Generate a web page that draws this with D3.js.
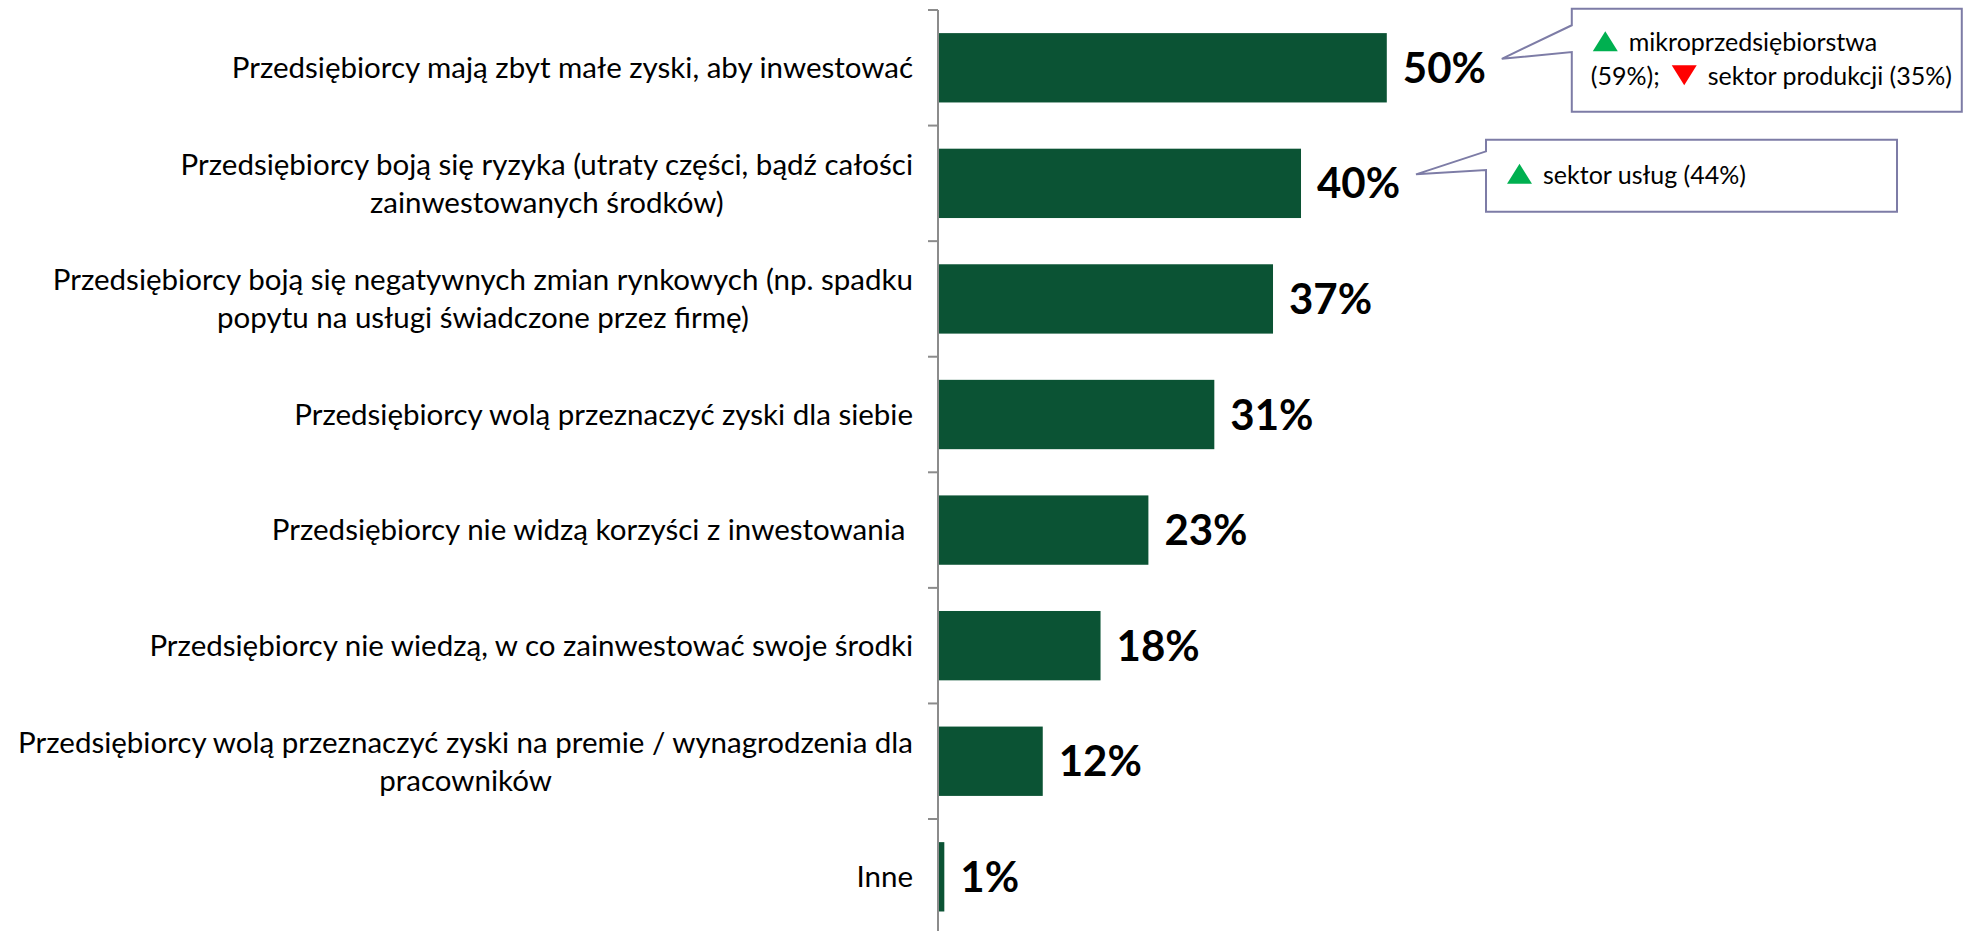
<!DOCTYPE html>
<html>
<head>
<meta charset="utf-8">
<script src="https://cdn.jsdelivr.net/npm/d3@7"></script>
<style>
  body { margin: 0; background: #fff; }
  text { font-family: Lato, "Open Sans", sans-serif; }
</style>
</head>
<body>
<div id="chart"></div>
<script>
// categories (line breaks as in the original wrapping)
const categories = [
  "Przedsiębiorcy mają zbyt małe zyski, aby inwestować",
  "Przedsiębiorcy boją się ryzyka (utraty części, bądź całości\nzainwestowanych środków)",
  "Przedsiębiorcy boją się negatywnych zmian rynkowych (np. spadku\npopytu na usługi świadczone przez firmę)",
  "Przedsiębiorcy wolą przeznaczyć zyski dla siebie",
  "Przedsiębiorcy nie widzą korzyści z inwestowania ",
  "Przedsiębiorcy nie wiedzą, w co zainwestować swoje środki",
  "Przedsiębiorcy wolą przeznaczyć zyski na premie / wynagrodzenia dla\npracowników",
  "Inne"
];
const values = [49.7, 40.2, 37.1, 30.6, 23.3, 18.0, 11.6, 0.7];

// callouts attached to bars (index into categories)
const noteIndex = [0, 1];
const noteLines = [
  [[{ tri: "up" }, { text: "mikroprzedsiębiorstwa" }],
   [{ text: "(59%);" }, { tri: "down" }, { text: "sektor produkcji (35%)" }]],
  [[{ tri: "up" }, { text: "sektor usług (44%)" }]]
];
const noteSize = [[390, 103], [411, 72]];

const width = 1963, height = 931;
const barColor = "#0b5334";
const axisColor = "#8c8c8c";

const svg = d3.select("#chart").append("svg")
  .attr("width", width)
  .attr("height", height);

const axisX = 938;
const x = d3.scaleLinear().domain([0, 100]).range([axisX, axisX + 903]);
const y = d3.scaleBand()
  .domain(d3.range(categories.length))
  .range([10, 934.6])
  .paddingInner(0.4)
  .paddingOuter(0.2);
const step = y.step();

// bars
svg.selectAll(".bar")
  .data(values)
  .enter().append("rect")
  .attr("class", "bar")
  .attr("x", x(0))
  .attr("y", (d, i) => y(i))
  .attr("width", d => x(d) - x(0))
  .attr("height", y.bandwidth())
  .attr("fill", barColor);

// axis line + ticks on band boundaries
svg.append("line")
  .attr("x1", axisX).attr("x2", axisX)
  .attr("y1", y.range()[0]).attr("y2", y.range()[1])
  .attr("stroke", axisColor).attr("stroke-width", 2);

svg.selectAll(".tick")
  .data(d3.range(categories.length + 1))
  .enter().append("line")
  .attr("class", "tick")
  .attr("x1", axisX - 10).attr("x2", axisX)
  .attr("y1", i => y.range()[0] + i * step)
  .attr("y2", i => y.range()[0] + i * step)
  .attr("stroke", axisColor).attr("stroke-width", 2);

// category labels: block right aligned, lines centered inside the block
const labelRight = 913, lineH = 38;
categories.forEach((c, i) => {
  const lines = c.split("\n");
  const cy = y(i) + y.bandwidth() / 2;
  const g = svg.append("g");
  const texts = lines.map((l, j) => g.append("text")
    .attr("y", cy + (j - (lines.length - 1) / 2) * lineH)
    .attr("dy", "0.35em")
    .style("white-space", "pre")
    .style("font-size", "29.5px")
    .attr("fill", "#000")
    .text(l));
  const maxW = d3.max(texts, t => t.node().getComputedTextLength());
  texts.forEach(t => t.attr("x", labelRight - maxW / 2).attr("text-anchor", "middle"));
});

// value labels
svg.selectAll(".val")
  .data(values)
  .enter().append("text")
  .attr("class", "val")
  .attr("x", d => x(d) + 16)
  .attr("y", (d, i) => y(i) + y.bandwidth() / 2)
  .attr("dy", "0.36em")
  .style("font-size", "42px")
  .style("font-weight", "bold")
  .attr("fill", "#000")
  .text(d => Math.round(d) + "%");

// callouts
const triW = 25, triH = 20;
noteIndex.forEach((idx, k) => {
  const [bw, bh] = noteSize[k];
  const cy = y(idx) + y.bandwidth() / 2;
  const tipX = x(values[idx]) + 115, tipY = cy - 9;
  const left = tipX + 70, top = cy - 7.5 - bh / 2;
  const g = svg.append("g");
  const p = d3.path();
  p.moveTo(left, top);
  p.lineTo(left + bw, top);
  p.lineTo(left + bw, top + bh);
  p.lineTo(left, top + bh);
  p.lineTo(left, top + bh * 0.42);
  p.lineTo(tipX, tipY);
  p.lineTo(left, top + bh * 0.16);
  p.closePath();
  g.append("path").attr("d", p.toString())
    .attr("fill", "#fff").attr("stroke", "#7d7ca6").attr("stroke-width", 2);

  const lines = noteLines[k];
  lines.forEach((segs, j) => {
    const base = top + bh / 2 - (lines.length - 1) * 17 + j * 34 + 8;
    let cx = left + (segs[0].tri ? 21 : 19);
    segs.forEach(s => {
      if (s.tri) {
        const up = s.tri === "up";
        const pts = up
          ? [[cx, base], [cx + triW, base], [cx + triW / 2, base - triH]]
          : [[cx, base - triH], [cx + triW, base - triH], [cx + triW / 2, base]];
        g.append("path").attr("d", d3.line()(pts) + "Z")
          .attr("fill", up ? "#00b050" : "#ff0000");
        cx += triW + 11;
      } else {
        const t = g.append("text")
          .attr("x", cx).attr("y", base)
          .style("font-size", "25px")
          .attr("fill", "#000")
          .text(s.text);
        cx += t.node().getComputedTextLength() + 12;
      }
    });
  });
});
</script>
</body>
</html>
